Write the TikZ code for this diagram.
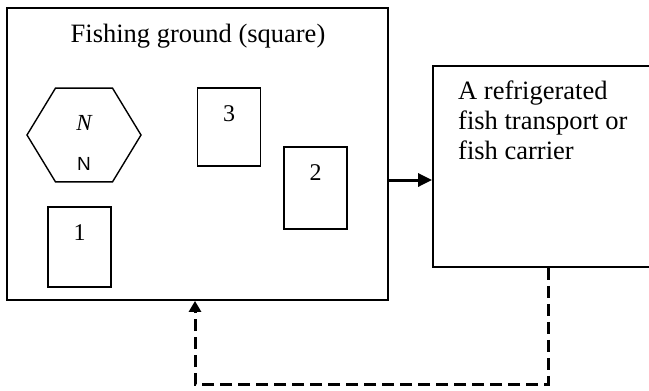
\documentclass[tikz,border=0pt]{standalone}
\usepackage{fontspec}
\setmainfont{Liberation Serif}
\setsansfont{Liberation Sans}
\usepackage{tikz}
\usetikzlibrary{shapes.geometric, arrows.meta, positioning}
\tikzset{
  % Box styles
  ground/.style={rectangle, draw=black, line width=1.8pt, minimum width=381pt, minimum height=292pt, inner sep=0pt},
  carrierbox/.style={rectangle, draw=black, line width=1.8pt, minimum width=280pt, minimum height=201pt, inner sep=0pt},
  patch/.style={rectangle, draw=black, line width=1.8pt, minimum width=63pt, minimum height=80pt, inner sep=0pt},
  hexa/.style={regular polygon, regular polygon sides=6, draw=black, line width=1.4pt, minimum size=114pt, inner sep=0pt, yscale=0.95},
  digit/.style={font=\fontsize{24}{28}\selectfont, inner sep=0pt},
  label/.style={font=\fontsize{26.5}{30}\selectfont, inner sep=0pt},
  % Connector styles
  arrow/.style={-{Triangle[length=14pt, width=13pt]}, line width=3pt},
  back/.style={-{Triangle[length=11pt, width=12pt]}, line width=3pt, dash pattern=on 12pt off 6pt},
}

\begin{document}
\begin{tikzpicture}[x=1pt, y=-1pt]
    \clip (0,0) rectangle (649,391);

    % Fishing ground
    \node[ground] (main) at (197.5,154) {};
    \node[label, anchor=base] (title) at (198,42) {Fishing ground (square)};

    % Hexagon
    \node[hexa] (hex) at (84,135) {};
    \node[font=\fontsize{23}{26}\selectfont\itshape, inner sep=0pt] (nit) at (84,123) {N};
    \node[font=\fontsize{19}{22}\selectfont\sffamily, inner sep=0pt] (nsf) at (84,164) {N};

    % Patches
    \node[patch, minimum height=78pt] (p3) at (229,127) {};
    \node[digit, below=18pt of p3.north] (d3) {3};
    \node[patch, minimum height=82pt] (p2) at (315.5,188) {};
    \node[digit, below=18pt of p2.north] (d2) {2};
    \node[patch] (p1) at (79.5,247) {};
    \node[digit, below=18pt of p1.north] (d1) {1};

    % Carrier
    \node[carrierbox] (carrier) at (573,166.5) {};
    \node[label, anchor=north west, align=left] (ctext) at (458,81)
      {A refrigerated\\fish transport or\\fish carrier};

    % Arrows
    \coordinate (link) at (410,180);
    \draw[arrow] (main.east |- link) -- (carrier.west |- link);

    \coordinate (turnA) at (548,384);
    \coordinate (turnB) at (195,384);
    \draw[back] (carrier.south -| turnA) -- (turnA) -- (turnB) -- (main.south -| turnB);
  \end{tikzpicture}
\end{document}
